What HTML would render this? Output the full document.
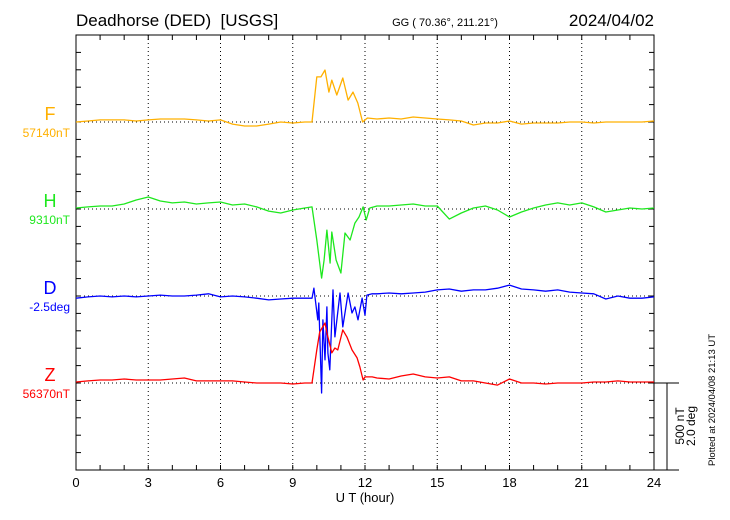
<!DOCTYPE html>
<html><head><meta charset="utf-8"><style>
body{margin:0;background:#fff;}
svg{display:block;font-family:"Liberation Sans",sans-serif;}
</style></head><body>
<svg id="chart" width="730" height="520" viewBox="0 0 730 520"></svg>
<script>
// ---- data ----
const fTimes=[0,0.5,1,1.5,2,2.5,3,3.5,4,4.5,5,5.5,6,6.5,7,7.5,8,8.5,9,9.5,9.8,10.0,10.17,10.34,10.5,10.62,10.83,11.08,11.3,11.5,11.7,11.9,12.1,12.5,13,13.5,14,14.5,15,15.5,16,16.5,17,17.5,18,18.5,19,19.5,20,20.5,21,21.5,22,22.5,23,23.5,24];
const fValues=[0,6,12,12,12,6,12,17,17,17,12,6,12,-12,-23,-23,-12,0,-6,0,0,259,259,299,172,241,155,253,126,172,109,0,23,17,23,17,29,23,17,12,6,-17,-6,-6,6,-12,-6,-6,-6,0,0,-6,0,0,0,0,6];
const hTimes=[0,0.5,1,1.5,2,2.5,3,3.5,4,4.5,5,5.5,6,6.5,7,7.5,8,8.5,9,9.5,9.8,10.0,10.2,10.3,10.42,10.55,10.62,10.8,11.0,11.17,11.38,11.58,11.75,11.92,12.05,12.2,12.5,13,13.5,14,14.5,15,15.5,16,16.5,17,17.5,18,18.5,19,19.5,20,20.5,21,21.5,22,22.5,23,23.5,24];
const hValues=[6,12,17,17,29,52,69,46,35,40,29,35,40,23,29,12,-12,-23,-6,6,12,-178,-397,-293,-121,-311,-132,-293,-368,-138,-178,-81,-46,12,-63,6,17,17,23,29,17,17,-58,-23,6,17,-6,-46,-17,6,23,35,23,35,12,-17,-6,6,0,6];
const dTimes=[0,0.5,1,1.5,2,2.5,3,3.5,4,4.5,5,5.5,6,6.5,7,7.5,8,8.5,9,9.5,9.8,9.88,10.04,10.08,10.2,10.25,10.34,10.42,10.46,10.54,10.67,10.75,10.96,11.08,11.3,11.46,11.58,11.71,11.88,12.0,12.08,12.3,12.5,13,13.5,14,14.5,15,15.5,16,16.5,17,17.5,18,18.5,19,19.5,20,20.5,21,21.5,22,22.5,23,23.5,24];
const dValues=[-0.05,-0.02,0,-0.02,0,-0.02,0,0.02,0,0,0.02,0.05,-0.02,0,-0.02,-0.05,-0.09,-0.07,-0.05,-0.05,-0.05,0.18,-0.55,-0.16,-2.23,-0.55,-1.47,-0.25,-1.31,-1.70,0.14,-0.94,0.07,-0.71,0.07,-0.39,-0.25,-0.55,-0.05,-0.44,0.02,0.05,0.05,0.07,0.05,0.07,0.09,0.14,0.16,0.11,0.14,0.14,0.18,0.25,0.16,0.14,0.11,0.14,0.09,0.07,0.05,-0.07,0,-0.05,-0.05,-0.02];
const zTimes=[0,0.5,1,1.5,2,2.5,3,3.5,4,4.5,5,5.5,6,6.5,7,7.5,8,8.5,9,9.5,9.8,10.0,10.12,10.34,10.42,10.62,10.75,10.87,11.08,11.25,11.46,11.67,11.79,11.92,12.0,12.3,12.5,13,13.5,14,14.5,15,15.5,16,16.5,17,17.5,18,18.5,19,19.5,20,20.5,21,21.5,22,22.5,23,23.5,24];
const zValues=[6,12,17,17,23,17,17,17,23,29,12,12,12,12,6,0,0,0,-6,0,0,190,293,345,288,173,201,190,305,265,190,144,92,17,35,35,29,23,40,52,35,29,35,12,12,0,-12,23,0,0,-6,0,0,0,6,6,12,6,6,6];
const xTickLabels=["0","3","6","9","12","15","18","21","24"];

// ---- layout ----
const L=76,R=654,T=35,B=470;
const NT_PX=87/500, DEG_PX=87/2.0;
const xS=h=>L+h*(R-L)/24;
const NS="http://www.w3.org/2000/svg";
const svg=document.getElementById('chart');
function mk(tag,attrs,txt){const e=document.createElementNS(NS,tag);for(const k in attrs)e.setAttribute(k,attrs[k]);if(txt!==undefined)e.textContent=txt;svg.appendChild(e);return e;}

let e=mk('rect',{x:L,y:T,width:R-L,height:B-T,fill:'none',stroke:'#000','stroke-width':1});


for(let h=3;h<24;h+=3){
 e=mk('line',{x1:xS(h),x2:xS(h),y1:T,y2:B,stroke:'#000','stroke-width':1,'stroke-dasharray':'1,3'});
 
 
}
for(let h=1;h<24;h++){
 e=mk('line',{x1:xS(h),x2:xS(h),y1:T,y2:T+5,stroke:'#000'});
 
 
 e=mk('line',{x1:xS(h),x2:xS(h),y1:B,y2:B-5,stroke:'#000'});
 
 
}
for(let i=1;i<25;i++){
 const y=B-i*87/5; if(y<=T+1)break;
 e=mk('line',{x1:L,x2:L+5,y1:y,y2:y,stroke:'#000'});
 
 
 e=mk('line',{x1:R,x2:R-5,y1:y,y2:y,stroke:'#000'});
 
 
}
xTickLabels.forEach((t,i)=>{
 e=mk('text',{x:xS(i*3),y:487,'font-size':13,'text-anchor':'middle'},t);
 
 
});
e=mk('text',{x:365,y:502,'font-size':13,'text-anchor':'middle'},'U T (hour)');



const series=[
 {n:'f',label:'F',val:'57140nT',base:122,color:'#ffb000',t:fTimes,v:fValues,k:NT_PX},
 {n:'h',label:'H',val:'9310nT',base:209,color:'#1ee81e',t:hTimes,v:hValues,k:NT_PX},
 {n:'d',label:'D',val:'-2.5deg',base:296,color:'#0000ff',t:dTimes,v:dValues,k:DEG_PX},
 {n:'z',label:'Z',val:'56370nT',base:383,color:'#ff0000',t:zTimes,v:zValues,k:NT_PX}
];
series.forEach(s=>{
 e=mk('line',{x1:L,x2:R,y1:s.base,y2:s.base,stroke:'#000','stroke-dasharray':'1,3'});
 
 
 const pts=s.t.map((h,i)=>xS(h).toFixed(1)+','+(s.base-s.v[i]*s.k).toFixed(1)).join(' ');
 e=mk('polyline',{points:pts,fill:'none',stroke:s.color,'stroke-width':1.3,'stroke-linejoin':'round'});
 
 
 e=mk('text',{x:50,y:s.base-2,'font-size':18,'text-anchor':'middle',fill:s.color},s.label);
 
 
 e=mk('text',{x:70,y:s.base+15,'font-size':12,'text-anchor':'end',fill:s.color},s.val);
 
 
});

e=mk('line',{x1:R,x2:679,y1:383,y2:383,stroke:'#000'});


e=mk('line',{x1:R,x2:679,y1:B,y2:B,stroke:'#000'});


e=mk('line',{x1:667,x2:667,y1:383,y2:B,stroke:'#000'});


e=mk('text',{x:0,y:0,'font-size':12,'text-anchor':'middle',transform:'translate(684,426) rotate(-90)'},'500 nT');


e=mk('text',{x:0,y:0,'font-size':12,'text-anchor':'middle',transform:'translate(695,426) rotate(-90)'},'2.0 deg');


e=mk('text',{x:0,y:0,'font-size':9.5,'text-anchor':'middle',transform:'translate(715,400) rotate(-90)'},'Plotted at 2024/04/08 21:13 UT');



e=mk('text',{x:76,y:26,'font-size':17},'Deadhorse (DED)\u00a0 [USGS]');


e=mk('text',{x:445,y:26,'font-size':11,'text-anchor':'middle'},'GG ( 70.36°, 211.21°)');


e=mk('text',{x:654,y:26,'font-size':17,'text-anchor':'end'},'2024/04/02');


</script>
</body></html>
